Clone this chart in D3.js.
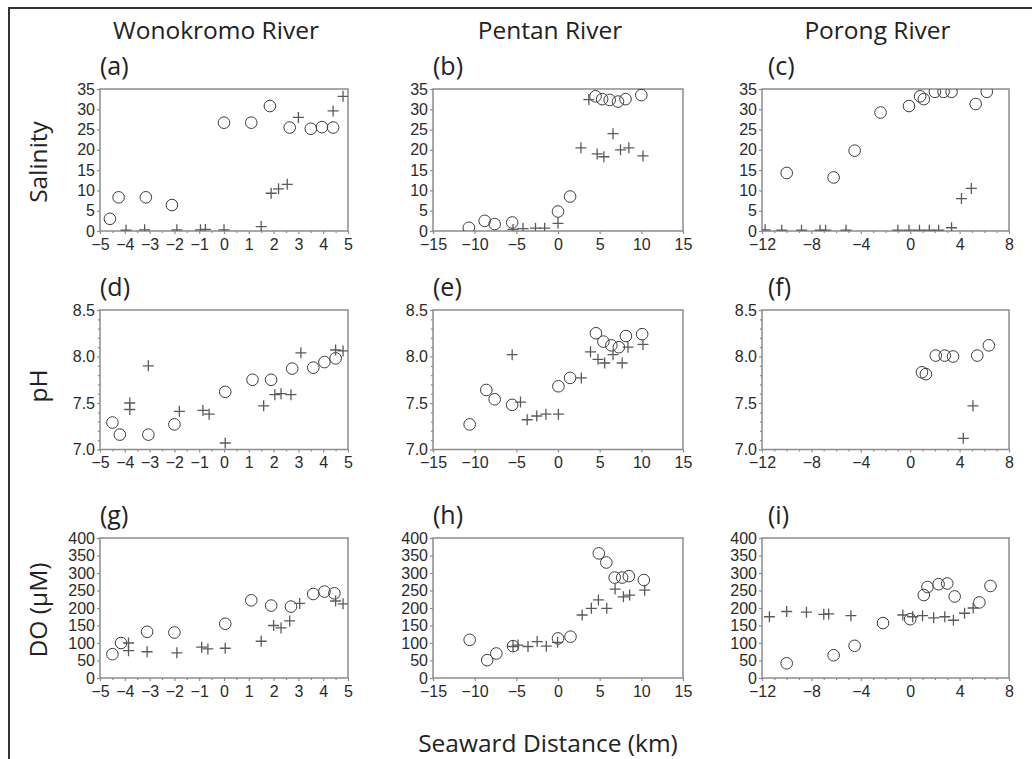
<!DOCTYPE html>
<html>
<head>
<meta charset="utf-8">
<script src="https://cdn.jsdelivr.net/npm/d3@7"></script>
<style>
  body { margin: 0; background: #fff; }
  svg { display: block; }
</style>
</head>
<body>
<div id="chart"></div>
<script>
// ---- data (distance in km, value) ----
// salinity
const wonoSalCircles = [[-4.6, 3], [-4.25, 8.3], [-3.15, 8.3], [-2.1, 6.4], [0, 26.7], [1.1, 26.7], [1.85, 30.8], [2.65, 25.5], [3.5, 25.2], [3.95, 25.6], [4.4, 25.5]];
const wonoSalPluses = [[-3.95, 0.2], [-3.2, 0.3], [-1.9, 0.3], [-0.95, 0.3], [-0.75, 0.4], [0, 0.3], [1.5, 1.1], [1.9, 9.3], [2.2, 10.4], [2.55, 11.5], [3.0, 28], [4.4, 29.6], [4.8, 33.2]];
const pentSalCircles = [[-10.7, 0.8], [-8.8, 2.5], [-7.6, 1.7], [-5.5, 2.1], [0, 4.8], [1.45, 8.5], [4.5, 33.2], [5.3, 32.5], [6.2, 32.3], [7.2, 31.9], [8.1, 32.5], [10.0, 33.5]];
const pentSalPluses = [[-5.4, 0.4], [-4.2, 0.6], [-2.7, 0.7], [-1.6, 0.7], [0, 1.9], [2.75, 20.5], [3.7, 32.4], [4.7, 19], [5.5, 18.3], [6.6, 24], [7.5, 20], [8.5, 20.5], [10.2, 18.5]];
const poroSalCircles = [[-10.0, 14.3], [-6.2, 13.2], [-4.5, 19.8], [-2.4, 29.2], [-0.1, 30.8], [0.8, 33.2], [1.1, 32.5], [2.0, 34.3], [2.7, 34.3], [3.35, 34.3], [5.3, 31.3], [6.2, 34.3]];
const poroSalPluses = [[-11.75, 0.3], [-10.4, 0.2], [-8.8, 0.2], [-7.3, 0.2], [-6.85, 0.2], [-5.2, 0.2], [-1.0, 0.2], [-0.1, 0.2], [0.75, 0.2], [1.55, 0.2], [2.3, 0.2], [3.35, 0.8], [4.15, 8], [4.95, 10.5]];
// pH
const wonoPhCircles = [[-4.5, 7.29], [-4.2, 7.16], [-3.05, 7.16], [-2.0, 7.27], [0.05, 7.62], [1.15, 7.75], [1.9, 7.75], [2.75, 7.87], [3.6, 7.88], [4.05, 7.94], [4.5, 7.98]];
const wonoPhPluses = [[-3.8, 7.5], [-3.8, 7.43], [-3.05, 7.9], [-1.8, 7.41], [-0.85, 7.42], [-0.6, 7.38], [0.05, 7.07], [1.6, 7.47], [2.05, 7.59], [2.3, 7.6], [2.7, 7.59], [3.1, 8.04], [4.5, 8.07], [4.8, 8.06]];
const pentPhCircles = [[-10.6, 7.27], [-8.6, 7.64], [-7.6, 7.54], [-5.5, 7.48], [0.05, 7.68], [1.45, 7.77], [4.55, 8.25], [5.45, 8.16], [6.4, 8.12], [7.3, 8.1], [8.15, 8.22], [10.1, 8.24]];
const pentPhPluses = [[-5.5, 8.02], [-4.5, 7.51], [-3.7, 7.32], [-2.55, 7.36], [-1.45, 7.38], [0.05, 7.38], [2.8, 7.77], [3.9, 8.05], [4.8, 7.97], [5.6, 7.93], [6.6, 8.02], [7.7, 7.93], [8.4, 8.1], [10.2, 8.13]];
const poroPhCircles = [[0.95, 7.83], [1.27, 7.81], [2.07, 8.01], [2.8, 8.01], [3.47, 8.0], [5.43, 8.01], [6.37, 8.12]];
const poroPhPluses = [[4.3, 7.12], [5.08, 7.47]];
// dissolved oxygen
const wonoDoCircles = [[-4.5, 68], [-4.15, 100], [-3.1, 132], [-2.0, 130], [0.05, 155], [1.1, 222], [1.9, 207], [2.7, 204], [3.6, 240], [4.05, 247], [4.45, 242]];
const wonoDoPluses = [[-3.85, 100], [-3.85, 78], [-3.1, 75], [-1.9, 72], [-0.9, 88], [-0.65, 83], [0.05, 85], [1.5, 105], [2.0, 150], [2.3, 143], [2.65, 163], [3.05, 213], [4.5, 220], [4.8, 212]];
const pentDoCircles = [[-10.6, 109], [-8.5, 51], [-7.4, 70], [-5.4, 91], [0.0, 113], [1.5, 118], [4.9, 356], [5.8, 330], [6.8, 287], [7.7, 287], [8.5, 291], [10.3, 280]];
const pentDoPluses = [[-5.4, 90], [-4.8, 94], [-3.6, 90], [-2.5, 104], [-1.4, 91], [-0.05, 102], [2.9, 180], [4.0, 199], [4.85, 223], [5.85, 199], [6.85, 254], [7.85, 232], [8.6, 237], [10.4, 251]];
const poroDoCircles = [[-10.0, 42], [-6.2, 65], [-4.5, 92], [-2.2, 157], [0.0, 168], [1.1, 237], [1.4, 260], [2.3, 268], [3.0, 270], [3.6, 233], [5.6, 216], [6.5, 263]];
const poroDoPluses = [[-11.4, 175], [-10.0, 190], [-8.4, 188], [-7.0, 182], [-6.6, 183], [-4.8, 178], [-0.6, 180], [0.2, 175], [1.0, 178], [1.9, 172], [2.8, 175], [3.5, 165], [4.4, 185], [5.1, 200]];

// ---- tick labels ----
const wonoTicks = [-5, -4, -3, -2, -1, 0, 1, 2, 3, 4, 5];
const pentTicks = [-15, -10, -5, 0, 5, 10, 15];
const poroTicks = [-12, -8, -4, 0, 4, 8];
const salinityTicks = [0, 5, 10, 15, 20, 25, 30, 35];
const phTicks = [7.0, 7.5, 8.0, 8.5];
const doTicks = [0, 50, 100, 150, 200, 250, 300, 350, 400];

const riverNames = ["Wonokromo River", "Pentan River", "Porong River"];
const rowTitles = ["Salinity", "pH", "DO (\u03bcM)"];
const panelLetters = ["a", "b", "c", "d", "e", "f", "g", "h", "i"];

const width = 1032, height = 759;

// layout of plot areas
const colRanges = [[100, 348], [433, 683], [762, 1009]];
const rowRanges = [[89, 231], [310, 449.5], [538, 678]];

const columns = [
    { domain: [-5, 5], ticks: wonoTicks, minor: d3.range(-4.5, 5, 1) },
    { domain: [-15, 15], ticks: pentTicks, minor: [] },
    { domain: [-12, 8], ticks: poroTicks, minor: d3.range(-11, 8, 1).filter(v => v % 4 !== 0) }
];
const rows = [
    { domain: [0, 35], ticks: salinityTicks, minor: [], fmt: d3.format("d"),
      series: [[wonoSalCircles, wonoSalPluses], [pentSalCircles, pentSalPluses], [poroSalCircles, poroSalPluses]] },
    { domain: [7, 8.5], ticks: phTicks, minor: d3.range(7.1, 8.45, 0.1).filter(v => Math.abs(v * 2 - Math.round(v * 2)) > 0.01), fmt: d3.format(".1f"),
      series: [[wonoPhCircles, wonoPhPluses], [pentPhCircles, pentPhPluses], [poroPhCircles, poroPhPluses]] },
    { domain: [0, 400], ticks: doTicks, minor: [], fmt: d3.format("d"),
      series: [[wonoDoCircles, wonoDoPluses], [pentDoCircles, pentDoPluses], [poroDoCircles, poroDoPluses]] }
];

const svg = d3.select("#chart").append("svg")
    .attr("width", width)
    .attr("height", height);

svg.append("rect").attr("width", width).attr("height", height).attr("fill", "#fff");

// outer frame (runs off the bottom/right of the picture)
svg.append("rect")
    .attr("x", 9).attr("y", 8)
    .attr("width", width + 20).attr("height", height + 20)
    .attr("fill", "none")
    .attr("stroke", "#333")
    .attr("stroke-width", 2);

const axisColor = "#8c8c8c";
const textFont = "'Open Sans', sans-serif";
const tickFont = "'Liberation Sans', Arial, sans-serif";

rows.forEach((row, ri) => {
    columns.forEach((col, ci) => {
        const [x0, x1] = colRanges[ci];
        const [y0, y1] = rowRanges[ri];
        const x = d3.scaleLinear().domain(col.domain).range([x0, x1]);
        const y = d3.scaleLinear().domain(row.domain).range([y1, y0]);
        const g = svg.append("g");
        const clipId = `clip-${ri}-${ci}`;

        svg.append("clipPath").attr("id", clipId)
            .append("rect")
            .attr("x", x0).attr("y", y0)
            .attr("width", x1 - x0).attr("height", y1 - y0);

        // y axis
        g.append("g")
            .attr("transform", `translate(${x0},0)`)
            .call(d3.axisLeft(y).tickValues(row.ticks).tickFormat(row.fmt).tickSize(3).tickPadding(2));
        if (row.minor.length) {
            g.append("g")
                .attr("transform", `translate(${x0},0)`)
                .call(d3.axisLeft(y).tickValues(row.minor).tickFormat("").tickSize(2))
                .call(a => a.select(".domain").remove());
        }

        // x axis
        const xAxis = g.append("g")
            .attr("transform", `translate(0,${y1})`)
            .call(d3.axisBottom(x).tickValues(col.ticks).tickFormat(d3.format("d")).tickSize(3).tickPadding(4));
        if (col.minor.length) {
            g.append("g")
                .attr("transform", `translate(0,${y1})`)
                .call(d3.axisBottom(x).tickValues(col.minor).tickFormat("").tickSize(2))
                .call(a => a.select(".domain").remove());
        }

        g.selectAll(".tick line").attr("stroke", axisColor).attr("stroke-width", 1.2);
        g.selectAll(".domain").remove();
        g.selectAll(".tick text")
            .attr("fill", "#2a2a2a")
            .attr("font-family", tickFont)
            .attr("font-size", "16px");
        xAxis.selectAll(".tick text").attr("dy", "0.72em");

        // plot box
        g.append("rect")
            .attr("x", x0).attr("y", y0)
            .attr("width", x1 - x0).attr("height", y1 - y0)
            .attr("fill", "none")
            .attr("stroke", axisColor)
            .attr("stroke-width", 1.5);

        // panel letter
        svg.append("text")
            .attr("x", x0 + (ci === 2 ? 6 : 0))
            .attr("y", y0 - 14)
            .attr("font-family", textFont)
            .attr("font-size", "25px")
            .attr("fill", "#222")
            .text(`(${panelLetters[ri * 3 + ci]})`);

        const marks = g.append("g").attr("clip-path", `url(#${clipId})`);
        const [circles, pluses] = row.series[ci];

        marks.selectAll("circle")
            .data(circles)
            .join("circle")
            .attr("cx", d => x(d[0]))
            .attr("cy", d => y(d[1]))
            .attr("r", 5.8)
            .attr("fill", "none")
            .attr("stroke", "#3c3c3c")
            .attr("stroke-width", 1);

        marks.selectAll("path.plus")
            .data(pluses)
            .join("path")
            .attr("class", "plus")
            .attr("d", d => {
                const cx = x(d[0]), cy = y(d[1]), s = 5.5;
                return `M${cx - s},${cy}H${cx + s}M${cx},${cy - s}V${cy + s}`;
            })
            .attr("stroke", "#5a5a5a")
            .attr("stroke-width", 1.3)
            .attr("fill", "none");
    });

    // row title (y axis label)
    const yc = ri === 1 ? 386 : (rowRanges[ri][0] + rowRanges[ri][1]) / 2 + 2;
    svg.append("text")
        .attr("transform", `translate(47,${yc}) rotate(-90)`)
        .attr("text-anchor", "middle")
        .attr("font-family", textFont)
        .attr("font-size", "24.5px")
        .attr("fill", "#222")
        .text(rowTitles[ri]);
});

// river names
riverNames.forEach((name, ci) => {
    const [x0, x1] = colRanges[ci];
    svg.append("text")
        .attr("x", (x0 + x1) / 2 - 8)
        .attr("y", 39)
        .attr("text-anchor", "middle")
        .attr("font-family", textFont)
        .attr("font-size", "24.5px")
        .attr("fill", "#222")
        .text(name);
});

// shared x axis title
svg.append("text")
    .attr("x", 548)
    .attr("y", 752)
    .attr("text-anchor", "middle")
    .attr("font-family", textFont)
    .attr("font-size", "24.5px")
    .attr("fill", "#222")
    .text("Seaward Distance (km)");
</script>
</body>
</html>
